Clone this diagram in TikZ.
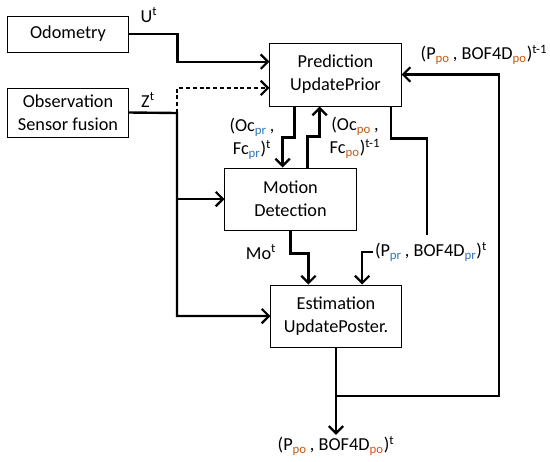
\documentclass[tikz,border=0pt]{standalone}
\usepackage{fontspec}
\setmainfont{Carlito}
\usepackage{xcolor}
\usetikzlibrary{arrows.meta,calc}

\definecolor{prc}{HTML}{2E75B6}
\definecolor{poc}{HTML}{C55A11}
\newcommand{\pr}{\textsubscript{\color{prc}pr}}
\newcommand{\po}{\textsubscript{\color{poc}po}}

\tikzset{
  block/.style={draw, line width=0.7pt, align=center, inner sep=0pt},
  flow/.style={line width=1.7pt, -{Straight Barb[length=0.18cm, width=0.36cm, line width=1.6pt]}},
  wire/.style={line width=1.7pt},
  lbl/.style={align=center, inner sep=1pt}
}

\begin{document}
\begin{tikzpicture}[x=0.025cm, y=-0.025cm, font=\fontsize{13}{16.3}\selectfont]
      \useasboundingbox (0,0) rectangle (550,461);

      % blocks
      \node[block, minimum width=3cm, minimum height=0.9cm] (odo) at (68,34) {Odometry};
      \node[block, minimum width=3cm, minimum height=1.225cm] (obs) at (68,112.5) {Observation\\Sensor fusion};
      \node[block, minimum width=3.275cm, minimum height=1.575cm] (pred) at (335.5,74.5) {Prediction\\UpdatePrior};
      \node[block, minimum width=3.275cm, minimum height=1.55cm] (mot) at (290.5,199) {Motion\\Detection};
      \node[block, minimum width=3.25cm, minimum height=1.55cm] (est) at (336,316) {Estimation\\UpdatePoster.};

      % labels
      \node[lbl] (ut) at (149,15) {U\textsuperscript{t}};
      \node[lbl] (zt) at (148,100) {Z\textsuperscript{t}};
      \node[lbl] (mo) at (261,252) {Mo\textsuperscript{t}};
      \node[lbl] (ocpr) at (252,139) {(Oc\pr\,,\\Fc\pr)\textsuperscript{t}};
      \node[lbl] (ocpo) at (355,138) {(Oc\po\,,\\Fc\po)\textsuperscript{t-1}};
      \node[lbl] (pold) at (484,55) {(P\po\,, BOF4D\po)\textsuperscript{t-1}};
      \node[lbl] (ppr) at (431,252) {(P\pr\,, BOF4D\pr)\textsuperscript{t}};
      \node[lbl] (pout) at (336,446) {(P\po\,, BOF4D\po)\textsuperscript{t}};

      \coordinate (zs) at (177,113);
      \coordinate (fb) at (499,396);

      % inputs
      \draw[flow] (odo.east) -- ++(49,0) |- ($(pred.north west)!0.3!(pred.south west)$);
      \draw[flow, dash pattern=on 0.1cm off 0.07cm] (zs) |- ($(pred.north west)!0.71!(pred.south west)$);
      \draw[flow] (obs.east) -- (zs) |- (est.west);
      \draw[flow] (zs |- mot.west) -- (mot.west);

      % prediction <-> motion
      \draw[flow] ($(pred.south west)!0.19!(pred.south east)$) -- ++(0,31) -| ($(mot.north west)!0.44!(mot.north east)$);
      \draw[flow] ($(mot.north west)!0.63!(mot.north east)$) -- ++(0,-31) -| ($(pred.south west)!0.38!(pred.south east)$);

      % to estimation
      \draw[wire] ($(pred.south west)!0.92!(pred.south east)$) -- ++(0,32) -| ([xshift=-0.1cm, yshift=0.15cm]ppr.north);
      \draw[flow] (ppr.west) -| ($(est.north west)!0.7!(est.north east)$);
      \draw[flow] (mot.south) -- ++(0,23) -| ($(est.north west)!0.29!(est.north east)$);

      % output and feedback
      \draw[flow] (est.south) -- (pout);
      \draw[flow] (est.south |- fb) -- (fb) |- (pred.east);
\end{tikzpicture}
\end{document}
